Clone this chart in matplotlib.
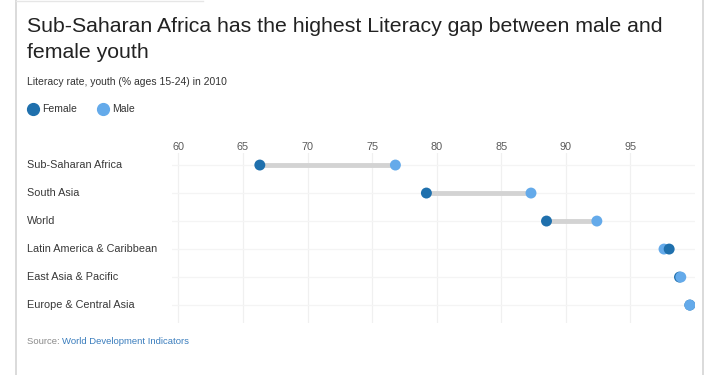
import matplotlib
matplotlib.use("Agg")
import matplotlib.pyplot as plt
from matplotlib.lines import Line2D

regions = ["Sub-Saharan Africa", "South Asia", "World",
           "Latin America & Caribbean", "East Asia & Pacific", "Europe & Central Asia"]
female = [66.3, 79.2, 88.5, 98.0, 98.8, 99.6]
male = [76.8, 87.3, 92.4, 97.6, 98.9, 99.6]
xticks = [60, 65, 70, 75, 80, 85, 90, 95]

female_color = "#1f70ad"
male_color = "#64aaea"

plt.rcParams['font.family'] = ['Liberation Sans', 'DejaVu Sans']

W, H = 720, 375
fig = plt.figure(figsize=(W / 100, H / 100), dpi=100)
fig.patch.set_facecolor("white")

# frame lines
fig.add_artist(Line2D([16 / W, 16 / W], [0, 1], color="#d4d4d4", lw=1.2))
fig.add_artist(Line2D([703 / W, 703 / W], [0, 1], color="#d4d4d4", lw=1.2))
fig.add_artist(Line2D([16 / W, 203 / W], [1 - 1 / H, 1 - 1 / H], color="#e6e6e6", lw=1.0))

# titles
fig.text(27 / W, 1 - 27 / H, "Sub-Saharan Africa has the highest Literacy gap between male and",
         fontsize=15.3, color="#222222", va="center", ha="left")
fig.text(27 / W, 1 - 52 / H, "female youth",
         fontsize=15.3, color="#222222", va="center", ha="left")
fig.text(27 / W, 1 - 82 / H, "Literacy rate, youth (% ages 15-24) in 2010",
         fontsize=7.5, color="#333333", va="center", ha="left")

# legend
fig.add_artist(Line2D([33 / W], [1 - 109 / H], marker="o", markersize=8.5,
                      color=female_color, linestyle="none"))
fig.text(42 / W, 1 - 109 / H, "Female", fontsize=7.5, color="#333333", va="center", ha="left")
fig.add_artist(Line2D([103 / W], [1 - 109 / H], marker="o", markersize=8.5,
                      color=male_color, linestyle="none"))
fig.text(112 / W, 1 - 109 / H, "Male", fontsize=7.5, color="#333333", va="center", ha="left")

# source
t = fig.text(27 / W, 1 - 341 / H, "Source: ", fontsize=6.8, color="#8a8a8a", va="center", ha="left")
fig.canvas.draw()
bb = t.get_window_extent()
fig.text(bb.x1 / W, 1 - 341 / H, "World Development Indicators", fontsize=6.8,
         color="#3a7dbd", va="center", ha="left")

# main axes
ax = fig.add_axes([172 / W, 1 - 323 / H, (695 - 172) / W, (323 - 153) / H])
ypos = list(range(len(regions)))
for y, f, m in zip(ypos, female, male):
    ax.plot([f, m], [y, y], color="#d3d3d3", lw=3.5, solid_capstyle="butt", zorder=2)
    # the point further right is drawn on top
    f_top = f > m
    ax.scatter([m], [y], s=62, color=male_color, zorder=3 if f_top else 4, edgecolors="none")
    ax.scatter([f], [y], s=62, color=female_color, zorder=4 if f_top else 3, edgecolors="none")

ax.set_xlim(59.5, 100)
ax.set_ylim(5.64, -0.43)
ax.set_xticks(xticks)
ax.set_xticklabels([str(v) for v in xticks])
ax.xaxis.tick_top()
ax.tick_params(axis="x", length=0, pad=1, labelsize=7.8, labelcolor="#5a5a5a")
ax.set_yticks(ypos)
ax.set_yticklabels([])
ax.tick_params(axis="y", length=0)
for y, r in zip(ypos, regions):
    ax.annotate(r, xy=(27 / W, y), xycoords=("figure fraction", "data"),
                fontsize=7.8, color="#383838", va="center", ha="left")

ax.grid(True, axis="x", color="#f0f0f0", lw=0.9)
ax.grid(True, axis="y", color="#f4f4f4", lw=0.9)
ax.set_axisbelow(True)
for s in ax.spines.values():
    s.set_visible(False)
ax.set_facecolor("white")

fig.savefig("out.png", dpi=100, facecolor="white")
